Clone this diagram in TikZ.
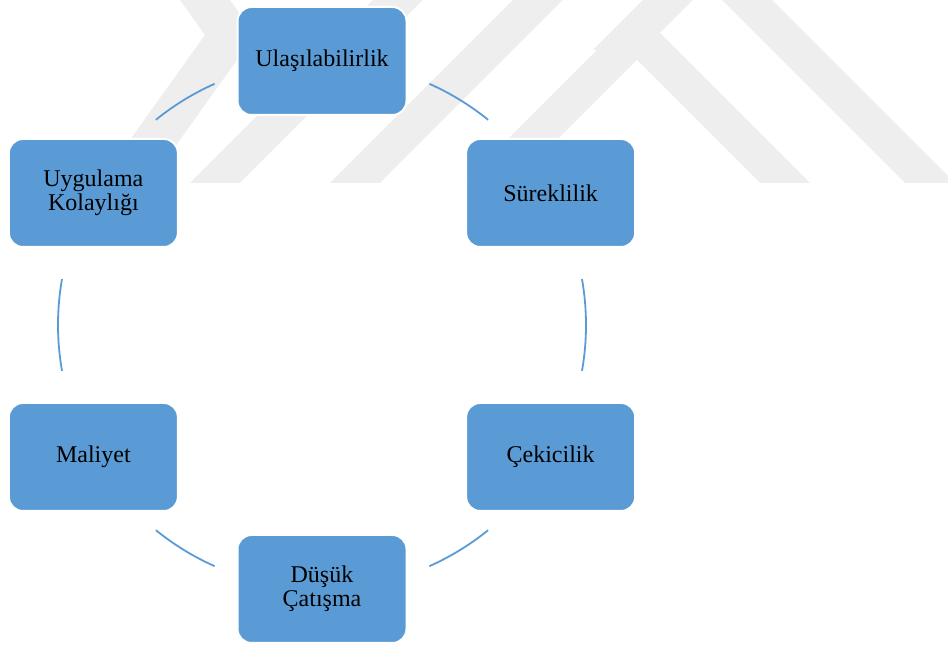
\documentclass[tikz,border=0pt]{standalone}
\usepackage{fontspec}
\setmainfont{Liberation Serif}
\usetikzlibrary{calc}

\definecolor{boxblue}{HTML}{5B9BD5}
\definecolor{wmgrey}{HTML}{EEEEEE}

\begin{document}
\begin{tikzpicture}[
    x=0.5pt, y=0.5pt, % one unit = one pixel of the reference
    box/.style={fill=boxblue, draw=white, line width=1pt, rounded corners=7pt,
        minimum width=84.5pt, minimum height=54pt, align=center,
        font=\fontsize{12}{12}\selectfont}, % Style for the criteria boxes
    link/.style={boxblue, line width=0.9pt}, % Style for the circle arcs
    mark band/.style={fill=wmgrey, draw=none} % Style for the faint background bands
]

    \useasboundingbox (0,0) rectangle (948,646);

    % Background bands
    \begin{scope}
        \clip (0,0) rectangle (948,646);
        \fill[mark band] (180,646) -- (230,646) -- (255,611) -- (149,463) -- (99,463) -- (205,611) -- cycle;
        \fill[mark band] (190,463) -- (240,463) -- (423,646) -- (373,646) -- cycle;
        \fill[mark band] (330,463) -- (380,463) -- (563,646) -- (513,646) -- cycle;
        \fill[mark band] (464,463) -- (637,636) -- (810,463) -- (760,463) -- (637,586) -- (514,463) -- cycle;
        \fill[mark band] (643,646) -- (693,646) -- (643,596) -- (593,596) -- cycle;
        \fill[mark band] (905,463) -- (722,646) -- (772,646) -- (955,463) -- cycle;
    \end{scope}

    % Centre of the ring
    \coordinate (ctr) at (322,321);

    % Criteria
    \node[box] (ulas)   at ($(ctr)+(90:264)$)  {Ulaşılabilirlik};
    \node[box] (surek)  at ($(ctr)+(30:264)$)  {Süreklilik};
    \node[box] (cekic)  at ($(ctr)+(-30:264)$) {Çekicilik};
    \node[box] (catis)  at ($(ctr)+(-90:264)$) {Düşük\\Çatışma};
    \node[box] (maliy)  at ($(ctr)+(210:264)$) {Maliyet};
    \node[box] (uygul)  at ($(ctr)+(150:264)$) {Uygulama\\Kolaylığı};

    % Arcs between neighbouring boxes
    \draw[link] ($(ctr)+(66:264)$)   arc[start angle=66,   end angle=51,   radius=132pt];
    \draw[link] ($(ctr)+(10:264)$)   arc[start angle=10,   end angle=-10,  radius=132pt];
    \draw[link] ($(ctr)+(-51:264)$)  arc[start angle=-51,  end angle=-66,  radius=132pt];
    \draw[link] ($(ctr)+(-114:264)$) arc[start angle=-114, end angle=-129, radius=132pt];
    \draw[link] ($(ctr)+(190:264)$)  arc[start angle=190,  end angle=170,  radius=132pt];
    \draw[link] ($(ctr)+(129:264)$)  arc[start angle=129,  end angle=114,  radius=132pt];

\end{tikzpicture}
\end{document}
